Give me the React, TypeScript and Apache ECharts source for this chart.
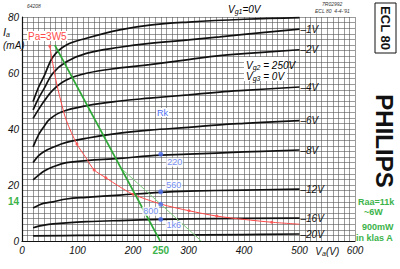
import React, { useEffect, useRef } from 'react';
import * as echarts from 'echarts';

// Anode characteristics Ia (mA) vs Va (V) for several Vg1 values
const curveNames = ['0V', '–1V', '–2V', '–4V', '–6V', '–8V', '–12V', '–16V', '–20V'];
const vg0 = [[20,49.8],[30,55],[40,59],[56,65.8],[80,70],[116,72.4],[176,75.4],[230,77.1],[300,78.2],[400,79.2],[500,79.8]];
const vg1 = [[20,46.8],[30,51],[40,54.5],[56,60],[80,64],[116,67],[176,69.2],[230,70.6],[300,71.8],[356,72.9],[400,73.8],[500,75.7]];
const vg2 = [[20,43.8],[30,47],[40,50],[56,54],[80,57.5],[116,59.9],[176,61.8],[230,63],[300,64.8],[356,66.2],[400,66.9],[500,68.3]];
const vg4 = [[20,33.6],[30,38],[40,41],[50,43.5],[70,46],[116,48.3],[176,50],[230,51],[300,52.2],[356,53.2],[400,53.8],[500,55]];
const vg6 = [[20,28],[30,30.5],[40,32],[56,33.5],[80,35.2],[116,36.7],[176,38.5],[230,39.6],[300,40.6],[356,41.5],[400,42],[500,43]];
const vg8 = [[20,21.8],[30,23.5],[40,25],[56,26.5],[80,28],[116,28.7],[176,29.5],[230,30.4],[300,31],[400,31.8],[500,32.5]];
const vg12 = [[20,11.8],[30,12.8],[40,13.5],[56,14],[80,15],[116,15.6],[176,16.4],[250,17.4],[300,17.8],[400,18.2],[500,18.5]];
const vg16 = [[20,4.75],[30,5.3],[40,5.7],[56,6.1],[80,6.5],[116,6.9],[176,7.3],[250,7.7],[350,8],[500,8.2]];
const vg20 = [[20,1.8],[100,2],[250,2.1],[400,2.3],[500,2.5]];
const curves = [vg0, vg1, vg2, vg4, vg6, vg8, vg12, vg16, vg20];

// Max dissipation curve Pa = 3.5 W
const paCurve = [[50,69.6],[60,58.5],[70,50],[80,43],[99,34.6],[115,29.8],[130,25.4],[151,22.6],[175,19.5],[200,16.7],[250,13.2],[301,10.8],[351,8.9],[400,7.7],[450,6.7],[500,6]];
const paDots = [[50,69.6],[99,34.6],[130,25.4],[151,22.6],[200,16.7],[301,10.8],[351,8.9],[450,6.7]];

// Load lines
const loadThick = [[59,70],[249,0]];
const loadThin = [[179,25.9],[323,0]];

// Cathode resistor points at Va = 250 V
const rkPoints = [[250,31],[250,17.6],[250,13.1],[250,7.75]];
const rkLabels = ['220', '560', '800', '1k6'];
const rkOffsets = [[14, 8], [13, -7], [-10, 7], [13, 6]];

const xLabelsMain = [0, 100, 200, 300, 400, 500, 600];
const yLabelsMain = [0, 20, 40, 60, 80];

const FONT = 'Liberation Sans';
const GREEN = '#2ea836';
const GREEN_TXT = '#3cb34a';
const RED = '#ff4a4a';
const BLUE = '#4f70f2';

export default function App() {
  const ref = useRef<HTMLDivElement>(null);
  useEffect(() => {
    const chart = echarts.init(ref.current!, null, { renderer: 'svg' });
    const curveSeries = curves.map((d, i) => ({
      type: 'line',
      data: d,
      smooth: 0.4,
      symbol: 'none',
      silent: true,
      z: 3,
      lineStyle: { color: '#111', width: 1.7 },
      endLabel: i === 0 ? { show: false } : {
        show: true,
        formatter: curveNames[i],
        color: '#111',
        fontSize: 10,
        fontStyle: 'italic',
        fontFamily: FONT,
        distance: 1,
      },
    }));
    const sub = { fontSize: 7, fontStyle: 'italic', fontFamily: FONT, color: '#111', padding: [5, 0, 0, 0] };
    const ital = { fontSize: 10, fontStyle: 'italic', fontFamily: FONT, color: '#111' };
    chart.setOption({
      animation: false,
      backgroundColor: '#fff',
      grid: { left: 22, right: 45, top: 17, bottom: 28 },
      xAxis: {
        type: 'value', min: 0, max: 600, interval: 10,
        axisLine: { lineStyle: { color: '#111', width: 1.2 } },
        axisTick: { show: false },
        splitLine: { lineStyle: { color: '#555', width: 0.6 } },
        axisLabel: {
          margin: 4,
          fontSize: 10, fontStyle: 'italic', fontFamily: FONT, color: '#111',
          formatter: (v: number) => v === 250 ? '{g|250}' : v === 550 ? '{i|V}{s|a}{i|(V)}' : (xLabelsMain.includes(v) ? String(v) : ''),
          rich: {
            g: { color: GREEN_TXT, fontWeight: 'bold', fontStyle: 'normal', fontSize: 10, fontFamily: FONT },
            i: ital, s: sub,
          },
        },
      },
      yAxis: {
        type: 'value', min: 0, max: 80, interval: 2,
        axisLine: { show: true, lineStyle: { color: '#111', width: 1.2 } },
        axisTick: { show: false },
        splitLine: { lineStyle: { color: '#555', width: 0.6 } },
        axisLabel: {
          margin: 3,
          fontSize: 10, fontStyle: 'italic', fontFamily: FONT, color: '#111',
          formatter: (v: number) => v === 14 ? '{g|14}' : (yLabelsMain.includes(v) ? String(v) : ''),
          rich: { g: { color: GREEN_TXT, fontWeight: 'bold', fontStyle: 'normal', fontSize: 10, fontFamily: FONT } },
        },
      },
      series: [
        ...curveSeries,
        { type: 'line', data: paCurve, smooth: 0.3, symbol: 'none', silent: true, z: 4, lineStyle: { color: RED, width: 1 } },
        { type: 'scatter', data: paDots, symbol: 'circle', symbolSize: 3, silent: true, z: 4, itemStyle: { color: RED } },
        { type: 'line', data: loadThin, symbol: 'none', silent: true, z: 5, lineStyle: { color: '#7fcf7f', width: 1 } },
        { type: 'line', data: loadThick, symbol: 'none', silent: true, z: 5, lineStyle: { color: GREEN, width: 1.6 } },
        {
          type: 'scatter', symbol: 'circle', symbolSize: 5, silent: true, z: 6,
          itemStyle: { color: BLUE },
          data: rkPoints.map((p, i) => ({
            value: p,
            label: {
              show: true, formatter: rkLabels[i], position: 'inside',
              offset: rkOffsets[i], color: BLUE, fontSize: 9, fontFamily: FONT,
              backgroundColor: '#fff', padding: [0, 1],
            },
          })),
        },
      ],
      graphic: [
        { type: 'text', left: 3, top: 26, style: { text: '{i|I}{s|a}', rich: { i: { ...ital, fontSize: 11 }, s: sub }, fill: '#111' } },
        { type: 'text', left: 3, top: 40, style: { text: '(mA)', font: `italic 10px "${FONT}"`, fill: '#111' } },
        { type: 'text', left: 27, top: 3, style: { text: '64208', font: `italic 5px "${FONT}"`, fill: '#333' } },
        { type: 'text', left: 322, top: 1, style: { text: '7R02992', font: `italic 5px "${FONT}"`, fill: '#333' } },
        { type: 'text', left: 315, top: 8, style: { text: "ECL 80  4-4-'91", font: `italic 5px "${FONT}"`, fill: '#333' } },
        { type: 'text', left: 228, top: 3, z: 10, style: { text: '{i|V}{s|g1}{i|=0V}', rich: { i: ital, s: sub }, backgroundColor: '#fff' } },
        { type: 'rect', shape: { x: 244, y: 57, width: 43, height: 24 }, style: { fill: '#fff' }, z: 10 },
        { type: 'text', x: 246, y: 59, z: 11, style: { text: '{i|V}{s|g2}{i| = 250V}', rich: { i: ital, s: sub } } },
        { type: 'text', x: 246, y: 70, z: 11, style: { text: '{i|V}{s|g3}{i| = 0V}', rich: { i: ital, s: sub } } },
        { type: 'text', x: 27, y: 31, z: 11, style: { text: 'Pa=3W5', font: `10px "${FONT}"`, fill: RED, backgroundColor: '#fff', padding: [0, 1] } },
        { type: 'text', x: 156, y: 108, z: 11, style: { text: 'Rk', font: `9px "${FONT}"`, fill: BLUE, backgroundColor: '#fff', padding: [0, 1] } },
        { type: 'rect', shape: { x: 375, y: 3, width: 21, height: 50 }, style: { fill: '#fff', stroke: '#111', lineWidth: 1 } },
        { type: 'text', x: 385.5, y: 28, rotation: -Math.PI / 2, style: { text: 'ECL 80', font: `bold 13px "${FONT}"`, fill: '#111', align: 'center', verticalAlign: 'middle' } },
        { type: 'text', x: 384, y: 141, rotation: -Math.PI / 2, style: { text: 'PHILIPS', font: `900 24px "${FONT}"`, fill: '#111', align: 'center', verticalAlign: 'middle' } },
        { type: 'text', x: 358, y: 197, style: { text: 'Raa=11k', font: `bold 9px "${FONT}"`, fill: GREEN_TXT } },
        { type: 'text', x: 364, y: 207, style: { text: '~6W', font: `bold 9px "${FONT}"`, fill: GREEN_TXT } },
        { type: 'text', x: 362, y: 222, style: { text: '900mW', font: `bold 9px "${FONT}"`, fill: GREEN_TXT } },
        { type: 'text', x: 356, y: 233, style: { text: 'in klas A', font: `bold 9px "${FONT}"`, fill: GREEN_TXT } },
      ],
    });
    return () => chart.dispose();
  }, []);
  return <div ref={ref} style={{ position: 'absolute', left: 0, top: 0, width: 400, height: 269 }} />;
}
